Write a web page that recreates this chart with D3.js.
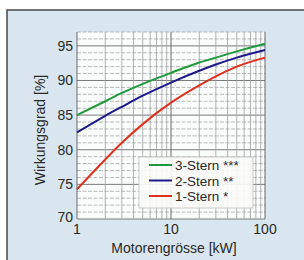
<!DOCTYPE html>
<html>
<head>
<meta charset="utf-8">
<script src="https://cdn.jsdelivr.net/npm/d3@7"></script>
<style>
body { margin: 0; background: #fff; }
text { font-family: "Liberation Sans", Arial, sans-serif; fill: #2a2a2a; }
</style>
</head>
<body>
<div id="chart"></div>
<script>
// motor size [kW]
var sizes = [1, 2, 3, 5, 10, 20, 30, 50, 100];
var star3 = [85.0, 87.0, 88.2, 89.5, 91.1, 92.6, 93.3, 94.2, 95.3];
var star2 = [82.5, 84.9, 86.2, 87.8, 89.7, 91.4, 92.3, 93.3, 94.4];
var star1 = [74.3, 78.6, 81.0, 83.7, 86.8, 89.3, 90.6, 92.0, 93.3];
var seriesNames = ["3-Stern ***", "2-Stern **", "1-Stern *"];
var seriesColors = ["#1e9a3c", "#1c1a8a", "#e0301e"];
var yTicks = [70, 75, 80, 85, 90, 95];
var xTicks = [1, 10, 100];

var W = 304, H = 260;
var svg = d3.select("#chart").append("svg").attr("width", W).attr("height", H);

// panel
svg.append("rect").attr("x", 7).attr("y", 10).attr("width", W).attr("height", H)
	.attr("fill", "#d9e6ef").attr("stroke", "#4a4a4a").attr("stroke-width", 1.5);

var pL = 77, pR = 265, pT = 32, pB = 219;
var x = d3.scaleLog().domain([1, 100]).range([pL, pR]);
var y = d3.scaleLinear().domain([70, 97]).range([pB, pT]);

svg.append("rect").attr("x", pL).attr("y", pT).attr("width", pR - pL).attr("height", pB - pT)
	.attr("fill", "#fbfcfc");

// horizontal grid, every 1 %
d3.range(70, 98).forEach(function(v) {
	var major = v % 5 == 0;
	svg.append("line").attr("x1", pL).attr("x2", pR).attr("y1", y(v)).attr("y2", y(v))
		.attr("stroke", major ? "#7a7a7a" : "#a8a8a8")
		.attr("stroke-width", major ? 1 : 0.8)
		.attr("stroke-dasharray", major ? null : "4,1.5");
});
// vertical grid, every integer per decade
var xs = [];
[1, 10].forEach(function(d) { for (var k = 1; k < 10; k++) xs.push(d * k); });
xs.push(100);
xs.forEach(function(v) {
	var major = xTicks.indexOf(v) != -1;
	svg.append("line").attr("x1", x(v)).attr("x2", x(v)).attr("y1", pT).attr("y2", pB)
		.attr("stroke", major ? "#6a6a6a" : "#a0a0a0")
		.attr("stroke-width", major ? 1 : 0.8);
});

// curves
var line = d3.line().x(function(d) { return x(d[0]); }).y(function(d) { return y(d[1]); })
	.curve(d3.curveMonotoneX);
[star3, star2, star1].forEach(function(s, i) {
	svg.append("path").datum(d3.zip(sizes, s)).attr("d", line)
		.attr("fill", "none").attr("stroke", seriesColors[i]).attr("stroke-width", 2);
});

// y tick labels
svg.selectAll(".yl").data(yTicks).enter().append("text")
	.attr("x", 73).attr("y", function(d) { return y(d) + (d == 70 ? 3 : 5); })
	.attr("text-anchor", "end").attr("font-size", 14).text(function(d) { return d; });
// x tick labels
svg.selectAll(".xl").data(xTicks).enter().append("text")
	.attr("x", function(d) { return x(d); }).attr("y", 234)
	.attr("text-anchor", "middle").attr("font-size", 14).text(function(d) { return d; });

svg.append("text").attr("x", 174).attr("y", 253).attr("text-anchor", "middle")
	.attr("font-size", 14).text("Motorengrösse [kW]");
svg.append("text").attr("transform", "translate(45,130) rotate(-90)").attr("text-anchor", "middle")
	.attr("font-size", 14).text("Wirkungsgrad [%]");

// legend
var lg = svg.append("g");
lg.append("rect").attr("x", 139).attr("y", 157).attr("width", 114).attr("height", 51)
	.attr("fill", "#fbfbf8").attr("fill-opacity", 0.92).attr("stroke", "#c8c8c8");
seriesNames.forEach(function(n, i) {
	var ly = 165 + i * 15.5;
	lg.append("line").attr("x1", 149).attr("x2", 172).attr("y1", ly).attr("y2", ly)
		.attr("stroke", seriesColors[i]).attr("stroke-width", 2);
	lg.append("text").attr("x", 175).attr("y", ly + 5).attr("font-size", 13.5).text(n);
});
</script>
</body>
</html>
